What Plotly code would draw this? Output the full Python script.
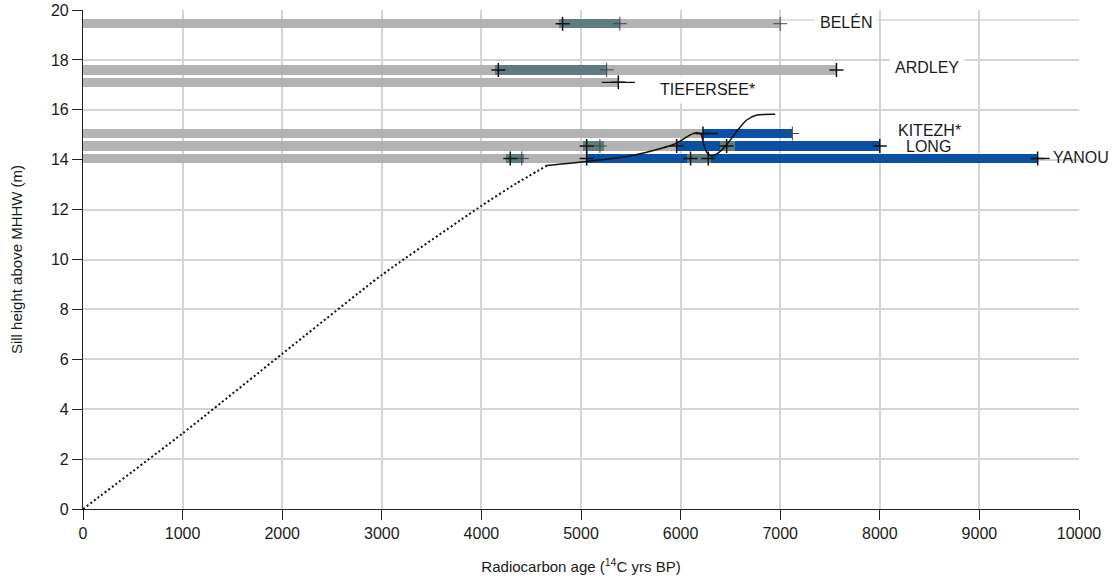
import plotly.graph_objects as go

# ---------------- data ----------------
sites = ["BELÉN", "ARDLEY", "TIEFERSEE*", "KITEZH*", "LONG", "YANOU"]
sill_m = [19.45, 17.6, 17.1, 15.05, 14.55, 14.05]

# age segments (14C yrs BP) per site
gray_segments = {
    "BELÉN": [(0, 7000)],
    "ARDLEY": [(0, 7565)],
    "TIEFERSEE*": [(0, 5375)],
    "KITEZH*": [(0, 6225)],
    "LONG": [(0, 5960)],
    "YANOU": [(0, 5057)],
}
blue_segments = {
    "KITEZH*": [(6225, 7120)],
    "LONG": [(5960, 8000)],
    "YANOU": [(5057, 9585)],
}
teal_segments = {
    "BELÉN": [(4775, 5395)],
    "ARDLEY": [(4140, 5258)],
    "LONG": [(5025, 5235), (6395, 6546)],
    "YANOU": [(4250, 4430), (6065, 6310)],
}

# dated samples: (site, age, err_minus, err_plus)
solid_dates = [
    ("BELÉN", 4815, 0, 0),
    ("ARDLEY", 4170, 0, 0),
    ("ARDLEY", 7565, 0, 0),
    ("TIEFERSEE*", 5375, 167, 167),
    ("KITEZH*", 6225, 100, 150),
    ("LONG", 5057, 0, 0),
    ("LONG", 5960, 0, 0),
    ("LONG", 6462, 0, 0),
    ("LONG", 8000, 0, 0),
    ("YANOU", 4290, 0, 0),
    ("YANOU", 5057, 0, 0),
    ("YANOU", 6100, 0, 0),
    ("YANOU", 6278, 0, 0),
    ("YANOU", 9585, 0, 120),
]
limit_dates = [
    ("BELÉN", 5390),
    ("BELÉN", 7000),
    ("ARDLEY", 5258),
    ("KITEZH*", 7122),
    ("LONG", 5190),
    ("YANOU", 4405),
]

# sea-level curve
curve_dot_age = [0, 1000, 2000, 3000, 4000, 4350, 4660]
curve_dot_m = [0.0, 3.03, 6.22, 9.38, 12.15, 13.05, 13.77]
curve_age = [4660, 5057, 5490, 5800, 5960, 6090, 6160, 6205, 6230, 6262, 6305,
             6360, 6460, 6560, 6660, 6765, 6950]
curve_m = [13.77, 13.93, 14.15, 14.45, 14.66, 14.98, 15.08, 15.02, 14.65, 14.3,
           14.15, 14.22, 14.59, 15.12, 15.58, 15.79, 15.82]

x_ticks = [0, 1000, 2000, 3000, 4000, 5000, 6000, 7000, 8000, 9000, 10000]
y_ticks = [0, 2, 4, 6, 8, 10, 12, 14, 16, 18, 20]

# ---------------- styling ----------------
FONT = "Liberation Sans, Arial, sans-serif"
TXT = "#1a1a1a"
GRAY = "#b3b3b3"
BLUE = "#0b50a2"
TEAL = "#5f7c80"
GRID = "#d4d4d4"
BAR_W = 0.37

site_y = dict(zip(sites, sill_m))

fig = go.Figure()


def add_segments(segs, color):
    ys, bases, lens = [], [], []
    for s, lst in segs.items():
        for a, b in lst:
            ys.append(site_y[s])
            bases.append(a)
            lens.append(b - a)
    fig.add_trace(go.Bar(
        y=ys, x=lens, base=bases, orientation="h", width=BAR_W,
        marker=dict(color=color, line=dict(width=0)),
        showlegend=False, hoverinfo="skip",
    ))


add_segments(gray_segments, GRAY)
add_segments(blue_segments, BLUE)
add_segments(teal_segments, TEAL)

# curve
fig.add_trace(go.Scatter(
    x=curve_dot_age, y=curve_dot_m, mode="lines",
    line=dict(color="#111", width=2, dash="2px,2.5px", shape="spline", smoothing=0.5),
    showlegend=False, hoverinfo="skip",
))
fig.add_trace(go.Scatter(
    x=curve_age, y=curve_m, mode="lines",
    line=dict(color="#111", width=1.5, shape="spline", smoothing=0.6),
    showlegend=False, hoverinfo="skip",
))

# limiting dates (light crosses)
fig.add_trace(go.Scatter(
    x=[a for _, a in limit_dates], y=[site_y[s] for s, _ in limit_dates],
    mode="markers",
    marker=dict(symbol="cross-thin", size=10, line=dict(color="#444", width=1)),
    showlegend=False, hoverinfo="skip",
))
# solid dates
fig.add_trace(go.Scatter(
    x=[d[1] for d in solid_dates], y=[site_y[d[0]] for d in solid_dates],
    mode="markers",
    marker=dict(symbol="cross-thin", size=10, line=dict(color="#111", width=1.5)),
    error_x=dict(type="data", symmetric=False,
                 array=[d[3] for d in solid_dates],
                 arrayminus=[d[2] for d in solid_dates],
                 width=0, thickness=1.3, color="#111"),
    showlegend=False, hoverinfo="skip",
))

# thin reference line near top
fig.add_shape(type="line", xref="x", yref="y", x0=0, x1=10000, y0=19.6, y1=19.6,
              line=dict(color=GRID, width=1.5), layer="below")

label_font = dict(family=FONT, size=16, color=TXT)
labels = [
    ("BELÉN", 7660, 19.5, "center", "white"),
    ("ARDLEY", 8474, 17.68, "center", "white"),
    ("TIEFERSEE*", 6275, 16.83, "center", "white"),
    ("KITEZH*", 8494, 15.19, "center", None),
    ("LONG", 8484, 14.51, "center", None),
    ("YANOU", 9729, 14.07, "left", None),
]
for text, x, y, xa, bg in labels:
    fig.add_annotation(
        x=x, y=y, xref="x", yref="y", text=text, showarrow=False,
        xanchor=xa, yanchor="middle", font=label_font,
        bgcolor=bg if bg else "rgba(0,0,0,0)", borderpad=5 if bg else 0,
    )

fig.update_layout(
    width=1118, height=584,
    margin=dict(l=83, r=39, t=10, b=75, autoexpand=False),
    paper_bgcolor="white", plot_bgcolor="white",
    barmode="overlay", bargap=0,
    font=dict(family=FONT, size=16, color=TXT),
    xaxis=dict(
        range=[0, 10000], tickvals=x_ticks, ticktext=[str(v) for v in x_ticks],
        showgrid=True, gridcolor=GRID, gridwidth=1.5,
        showline=True, linecolor="#222", linewidth=1.2,
        ticks="outside", ticklen=10, tickcolor="#222", tickwidth=1.2,
        zeroline=False, automargin=False, ticklabeloverflow="allow",
        tickfont=dict(family=FONT, size=16, color=TXT),
        title=dict(text="Radiocarbon age (<sup>14</sup>C yrs BP)",
                   font=dict(family=FONT, size=15, color=TXT), standoff=20),
    ),
    yaxis=dict(
        range=[0, 20], tickvals=y_ticks, ticktext=[str(v) for v in y_ticks],
        showgrid=True, gridcolor=GRID, gridwidth=1.5,
        showline=True, linecolor="#222", linewidth=1.2,
        ticks="outside", ticklen=10, tickcolor="#222", tickwidth=1.2,
        zeroline=False, automargin=False, ticklabeloverflow="allow",
        tickfont=dict(family=FONT, size=16, color=TXT),
        title=dict(text="Sill height above MHHW (m)",
                   font=dict(family=FONT, size=15, color=TXT), standoff=24),
    ),
)

# remove the default 8px page margin so the figure sits at the window origin
fig.write_html("out.html", config={"displayModeBar": False},
               post_script="document.body.style.margin='0';document.body.style.overflow='hidden';")
